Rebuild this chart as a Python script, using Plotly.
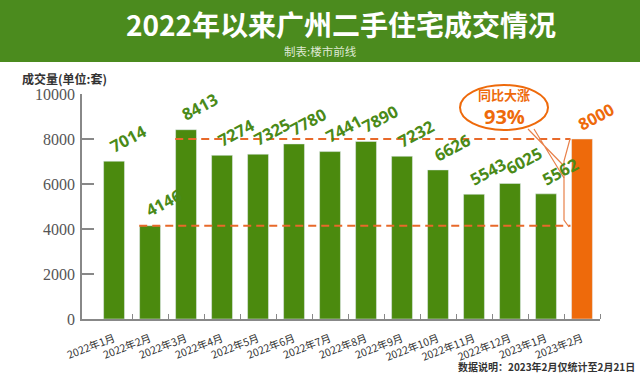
import plotly.graph_objects as go

months = ["2022年1月", "2022年2月", "2022年3月", "2022年4月", "2022年5月", "2022年6月",
          "2022年7月", "2022年8月", "2022年9月", "2022年10月", "2022年11月", "2022年12月",
          "2023年1月", "2023年2月"]
volumes = [7014, 4146, 8413, 7274, 7325, 7780, 7441, 7890, 7232, 6626, 5543, 6025, 5562, 8000]
y_ticks = [0, 2000, 4000, 6000, 8000, 10000]
y_tick_labels = ["0", "2000", "4000", "6000", "8000", "10000"]
title = "2022年以来广州二手住宅成交情况"
subtitle = "制表:楼市前线"
y_title = "成交量(单位:套)"
callout_top = "同比大涨"
callout_pct = "93%"
note = "数据说明：2023年2月仅统计至2月21日"

GREEN = "#4b8a0e"
LABEL_GREEN = "#4a8a18"
HEADER = "#4b8b1e"
ORANGE = "#ee6a0b"
CJK = "Noto Sans CJK SC"

W, H = 640, 373
L, R, T, B = 82, 40, 94, 54
PW, PH = W - L - R, H - T - B


def px(x):
    return (x - L) / PW


def py(y):
    return (H - B - y) / PH


colors = [GREEN] * (len(months) - 1) + [ORANGE]
label_colors = [LABEL_GREEN] * (len(months) - 1) + [ORANGE]

fig = go.Figure()
fig.add_trace(go.Bar(x=list(range(len(months))), y=volumes, marker_color=colors,
                     width=0.58, hoverinfo="skip"))

annotations = []
for i, v in enumerate(volumes):
    annotations.append(dict(x=i - 0.31, y=v, xref="x", yref="y", text=str(v),
                            showarrow=False, textangle=-28, xanchor="left", yanchor="bottom",
                            yshift=1, font=dict(family="Open Sans", size=16.5, color=label_colors[i],
                                                 weight="bold")))

annotations += [
    dict(x=0.5, y=py(24), xref="paper", yref="paper", text=title, showarrow=False,
         font=dict(family=CJK, size=28, color="white", weight="bold"), xanchor="center", yanchor="middle"),
    dict(x=px(320), y=py(51), xref="paper", yref="paper", text=subtitle, showarrow=False,
         font=dict(family=CJK, size=11.5, color="#dfe9d3"), xanchor="center", yanchor="middle"),
    dict(x=px(20), y=py(78), xref="paper", yref="paper", text=y_title, showarrow=False,
         font=dict(family=CJK, size=12, color="#333333", weight="bold"), xanchor="left", yanchor="middle"),
    dict(x=px(504), y=py(94), xref="paper", yref="paper", text=callout_top, showarrow=False,
         font=dict(family=CJK, size=13, color=ORANGE, weight="bold"), xanchor="center", yanchor="middle"),
    dict(x=px(504), y=py(116), xref="paper", yref="paper", text=callout_pct, showarrow=False,
         font=dict(family="Open Sans", size=20, color=ORANGE, weight="bold"), xanchor="center", yanchor="middle"),
    dict(x=px(637), y=py(366), xref="paper", yref="paper", text=note, showarrow=False,
         font=dict(family=CJK, size=10, color="#333333", weight="bold"), xanchor="right", yanchor="middle"),
]

last = len(volumes) - 1
shapes = [
    dict(type="rect", xref="paper", yref="paper", x0=px(0), x1=px(W), y0=py(62), y1=py(0),
         fillcolor=HEADER, line_width=0, layer="below"),
    dict(type="line", xref="x", yref="y", x0=2 - 0.3, x1=last - 0.32, y0=volumes[last], y1=volumes[last],
         line=dict(color="#e8692a", width=2, dash="8px,5px")),
    dict(type="line", xref="x", yref="y", x0=1 - 0.3, x1=last - 0.32, y0=volumes[1], y1=volumes[1],
         line=dict(color="#e8692a", width=2, dash="8px,5px")),
    dict(type="circle", xref="paper", yref="paper", x0=px(460), x1=px(548), y0=py(130), y1=py(85),
         line=dict(color=ORANGE, width=2), fillcolor="rgba(0,0,0,0)"),
    dict(type="path", xref="paper", yref="paper",
         path=(f"M {px(570)},{py(139)} L {px(564)},{py(161)} L {px(564)},{py(220)} L {px(569)},{py(227)}"),
         line=dict(color="#e8814a", width=1.2)),
    dict(type="path", xref="paper", yref="paper",
         path=(f"M {px(528)},{py(129)} L {px(564)},{py(166)} M {px(534)},{py(129)} L {px(564)},{py(178)}"),
         line=dict(color="#e8814a", width=1.2)),
]

fig.update_layout(
    width=W, height=H,
    margin=dict(l=L, r=R, t=T, b=B, pad=0),
    plot_bgcolor="white", paper_bgcolor="white",
    showlegend=False, bargap=0.4,
    annotations=annotations, shapes=shapes,
    xaxis=dict(range=[-0.89, 13.5], tickmode="array", tickvals=list(range(len(months))),
               ticktext=months, tickangle=-21, showline=True, linecolor="#888888", linewidth=1.5,
               ticks="", showgrid=False, zeroline=False, ticklabelstandoff=8, automargin=False,
               tickfont=dict(family=CJK, size=10.5, color="#333333")),
    yaxis=dict(range=[0, 10000], tickmode="array", tickvals=y_ticks, ticktext=y_tick_labels,
               showline=True, linecolor="#888888", automargin=False,
               linewidth=1.5, ticks="inside", ticklen=12, tickcolor="#888888", tickwidth=1.5,
               showgrid=False, zeroline=False, ticklabelstandoff=2,
               tickfont=dict(family="Liberation Serif", size=16, color="#555555")),
)

fig.update_xaxes(minor=dict(tickvals=[i + 0.5 for i in range(len(months))], ticks="inside",
                            ticklen=5, tickcolor="#888888", tickwidth=1))

fig.write_html("out.html", config={"displayModeBar": False},
               post_script="document.body.style.margin='0';document.body.style.overflow='hidden';")
